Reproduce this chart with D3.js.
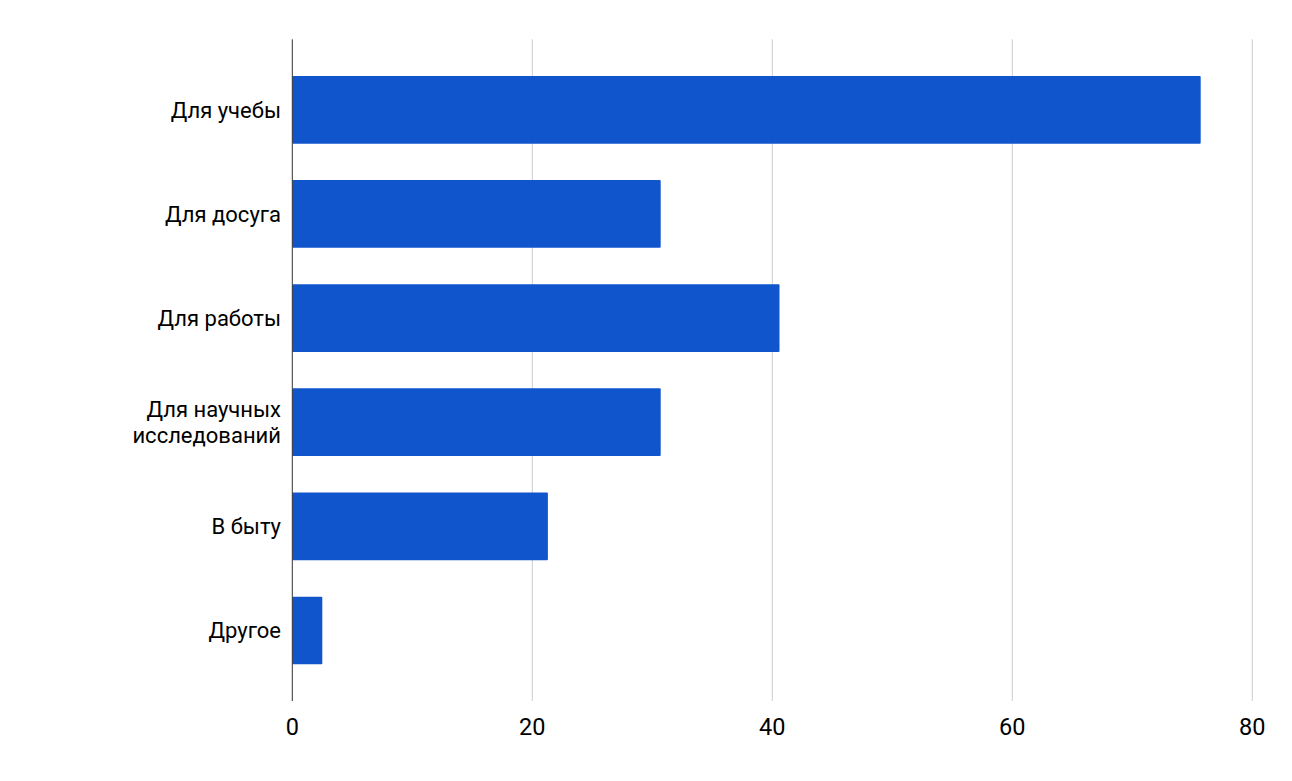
<!DOCTYPE html>
<html><head><meta charset="utf-8">
<script src="https://cdn.jsdelivr.net/npm/d3@7"></script>
<style>body{margin:0;background:#fff;} svg{display:block;} text{font-family:Roboto,"Noto Sans",sans-serif;}</style>
</head><body>
<script>
const categories = [["Для учебы"],["Для досуга"],["Для работы"],["Для научных","исследований"],["В быту"],["Другое"]];
const values = [75.7, 30.7, 40.6, 30.7, 21.3, 2.5];
const xTicks = [0, 20, 40, 60, 80];

(function() {
const W = 1292, H = 781;
const mLeft = 292.3, mRight = 1252.3, mTop = 39.3, mBottom = 701;
const svg = d3.select("body").append("svg").attr("width", W).attr("height", H);

const x = d3.scaleLinear().domain([0, 80]).range([mLeft, mRight]);
const y = d3.scaleBand().domain(d3.range(categories.length)).range([mTop, mBottom]).paddingInner(0.35).paddingOuter(0.352);

svg.append("g").selectAll("line").data(xTicks.filter(d => d !== 0)).join("line")
  .attr("x1", d => x(d)).attr("x2", d => x(d)).attr("y1", mTop).attr("y2", mBottom)
  .attr("stroke", "#cccccc").attr("stroke-width", 1);

svg.append("g").selectAll("rect").data(values).join("rect")
  .attr("x", x(0)).attr("y", (d, i) => y(i))
  .attr("width", d => x(d) - x(0)).attr("height", y.bandwidth())
  .attr("rx", 1).attr("fill", "#1155cc");

svg.append("line").attr("x1", x(0)).attr("x2", x(0)).attr("y1", mTop).attr("y2", mBottom)
  .attr("stroke", "#333333").attr("stroke-width", 1);

svg.append("g").selectAll("text").data(xTicks).join("text")
  .attr("x", d => x(d)).attr("y", 735).attr("text-anchor", "middle")
  .attr("font-size", 23.5).attr("fill", "#000").text(d => d);

const lab = svg.append("g").selectAll("text").data(categories).join("text")
  .attr("text-anchor", "end").attr("font-size", 22).attr("fill", "#000");
lab.each(function(lines, i) {
  const cy = y(i) + y.bandwidth() / 2;
  const lh = 26.6;
  const t = d3.select(this);
  lines.forEach((l, k) => {
    t.append("tspan").attr("x", 281).attr("y", cy + (k - (lines.length - 1) / 2) * lh + 7.7).text(l);
  });
});
})();
</script>
</body></html>
